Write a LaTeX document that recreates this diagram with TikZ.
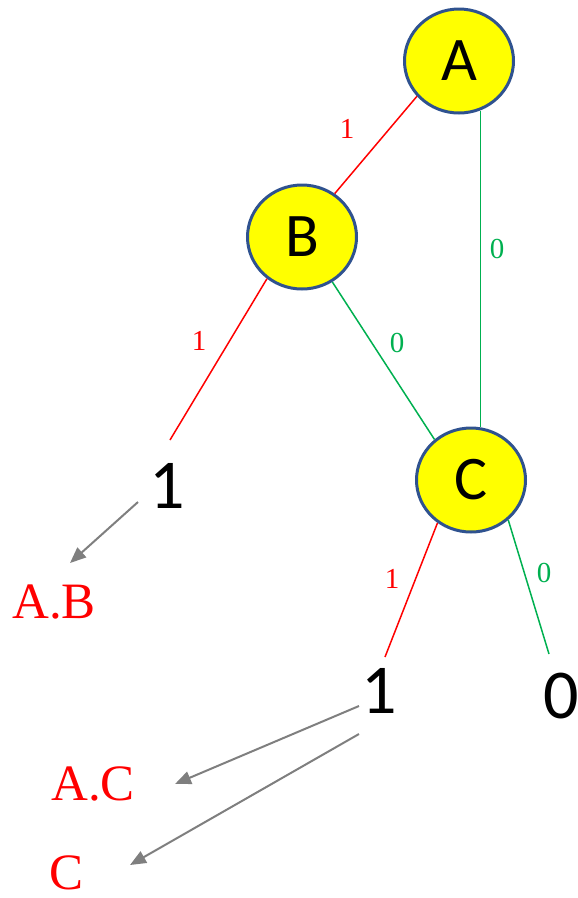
\documentclass[tikz,border=0pt]{standalone}
\usepackage{fontspec}
\setmainfont{Liberation Serif}
\newfontfamily\carlito{Carlito}
\usetikzlibrary{shapes.geometric,arrows.meta}
\definecolor{pptred}{HTML}{FF0000}
\definecolor{pptgreen}{HTML}{00B050}
\definecolor{pptblue}{HTML}{2F528F}
\definecolor{pptgray}{HTML}{7F7F7F}
\definecolor{pptyellow}{HTML}{FFFF00}
\begin{document}
\begin{tikzpicture}[x=1pt,y=-1pt,
  var/.style={ellipse, draw=pptblue, fill=pptyellow, line width=3pt, minimum width=109pt, minimum height=104pt, inner sep=0pt, font=\carlito\fontsize{62}{62}\selectfont},
  leaf/.style={anchor=base, inner sep=0pt, font=\carlito\fontsize{70}{70}\selectfont},
  res/.style={anchor=base, inner sep=0pt, text=pptred, font=\fontsize{51}{51}\selectfont},
  lbl/.style={anchor=base, inner sep=0pt, font=\fontsize{29}{29}\selectfont},
  one/.style={draw=pptred, line width=1.5pt},
  zero/.style={draw=pptgreen, line width=1.5pt},
  ptr/.style={draw=pptgray, line width=2pt, -{Triangle[length=16pt,width=13pt]}}
]
\useasboundingbox (0,0) rectangle (578,898);

% free ends
\coordinate (l1top) at (170,440);
\coordinate (l2top) at (385,657);
\coordinate (l3top) at (549,654);
\coordinate (acx) at (480.5,0);
\coordinate (a1s) at (138,502);
\coordinate (a1e) at (70,563);
\coordinate (a2s) at (359,706);
\coordinate (a2e) at (175,784);
\coordinate (a3s) at (359,734);
\coordinate (a3e) at (130,865);

% variable nodes
\node[var] (A) at (459,61) {A};
\node[var] (B) at (302,237) {B};
\node[var] (C) at (471,480) {C};

% leaves
\node[leaf] (L1) at (167,508) {1};
\node[leaf] (L2) at (379,713) {1};
\node[leaf] (L3) at (561,718) {0};

% results
\node[res] (AB) at (54,618) {A.B};
\node[res] (AC) at (93,800) {A.C};
\node[res] (Cr) at (67,889) {C};

% edges
\draw[one] (A.-140) -- (B.53);
\draw[zero] (A.-68 -| acx) -- (C.north -| acx);
\draw[one] (B.-130) -- (l1top);
\draw[zero] (B.-56) -- (C.132);
\draw[one] (C.-128) -- (l2top);
\draw[zero] (C.-47) -- (l3top);

% edge labels
\node[lbl, text=pptred] (e1) at (347,138) {1};
\node[lbl, text=pptgreen] (e2) at (497,258) {0};
\node[lbl, text=pptred] (e3) at (199,350) {1};
\node[lbl, text=pptgreen] (e4) at (397,352) {0};
\node[lbl, text=pptred] (e5) at (392,588) {1};
\node[lbl, text=pptgreen] (e6) at (544,582) {0};

% pointers
\draw[ptr] (a1s) -- (a1e);
\draw[ptr] (a2s) -- (a2e);
\draw[ptr] (a3s) -- (a3e);
\end{tikzpicture}
\end{document}
